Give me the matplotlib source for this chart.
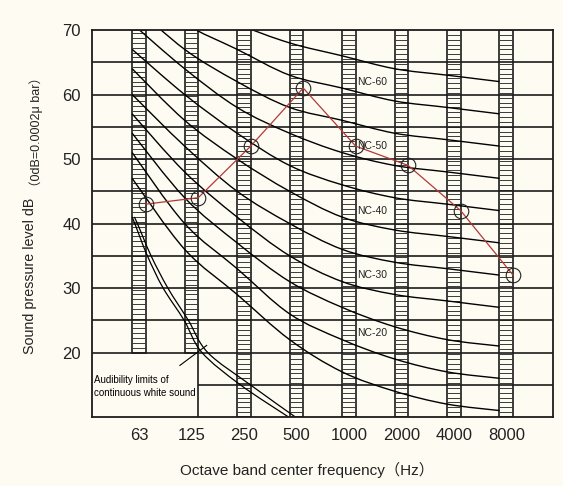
import numpy as np
import matplotlib.pyplot as plt
from matplotlib.path import Path
from matplotlib.patches import PathPatch

# ─────────────────────────────
# DATA
# ─────────────────────────────
bands = ["63", "125", "250", "500", "1000", "2000", "4000", "8000"]

# NC curves (dB at each octave band)
nc15 = [47, 36, 29, 22, 17, 14, 12, 11]
nc20 = [51, 40, 33, 26, 22, 19, 17, 16]
nc25 = [54, 44, 37, 31, 27, 24, 22, 21]
nc30 = [57, 48, 41, 35, 31, 29, 28, 27]
nc35 = [60, 52, 45, 40, 36, 34, 33, 32]
nc40 = [64, 56, 50, 45, 41, 39, 38, 37]
nc45 = [67, 60, 54, 49, 46, 44, 43, 42]
nc50 = [71, 64, 58, 54, 51, 49, 48, 47]
nc55 = [74, 67, 62, 58, 56, 54, 53, 52]
nc60 = [77, 71, 67, 63, 61, 59, 58, 57]
nc65 = [80, 75, 71, 68, 66, 64, 63, 62]
nc_names = [15, 20, 25, 30, 35, 40, 45, 50, 55, 60, 65]
nc_labelled = [20, 30, 40, 50, 60]

# measured spectrum
measured = [43, 44, 52, 61, 52, 49, 42, 32]

# audibility limits of continuous white sound (band index position, dB)
aud_outer_x = [-0.13, -0.08, 0.16, 0.46, 0.86, 1.20, 1.93, 2.85]
aud_outer_db = [41, 40, 35, 30, 25, 20, 15, 10]
aud_inner_x = [-0.09, -0.03, 0.23, 0.55, 0.94, 1.31, 2.12, 2.98]
aud_inner_db = [41, 40, 35, 30, 25, 20, 15, 10]


# smooth line through points (Catmull-Rom drawn as Bezier segments)
def smooth_path(xs, ys):
    p = np.column_stack([xs, ys]).astype(float)
    ext = np.vstack([p[0], p, p[-1]])
    verts = [p[0]]
    codes = [Path.MOVETO]
    for i in range(1, len(ext) - 2):
        c1 = ext[i] + (ext[i + 1] - ext[i - 1]) / 6
        c2 = ext[i + 1] - (ext[i + 2] - ext[i]) / 6
        verts += [c1, c2, ext[i + 1]]
        codes += [Path.CURVE4] * 3
    return Path(verts, codes)


def draw_curve(ax, xs, ys, lw):
    ax.add_patch(PathPatch(smooth_path(xs, ys), fill=False,
                           edgecolor="black", lw=lw, zorder=4))


# ─────────────────────────────
# STYLE
# ─────────────────────────────
bg = "#fdfbf2"
ink = "#1c1c1c"
fam = ["Liberation Sans", "Noto Sans CJK SC", "DejaVu Sans"]
plt.rcParams["font.family"] = fam

fig = plt.figure(figsize=(5.63, 4.86), dpi=100, facecolor=bg)
ax = fig.add_axes([92 / 563, 1 - 417 / 486, 461 / 563, 387 / 486])
ax.set_facecolor(bg)

x = np.arange(len(bands))
w = 0.26
ymin, ymax = 10, 70
ax.set_xlim(-0.895, 7.89)
ax.set_ylim(ymin, ymax)

# ── hatched band columns
bar_bottom = [20, 20, 10, 10, 10, 10, 10, 10]
for xi, b0 in zip(x, bar_bottom):
    ax.bar(xi, ymax - b0, bottom=b0, width=w, facecolor=bg,
           edgecolor=ink, lw=1.2, zorder=2)
    ax.hlines(np.arange(b0 + 0.75, ymax, 0.75), xi - w / 2, xi + w / 2,
              color="#3a3a3a", lw=0.7, zorder=2.5)

# ── grid
for g in range(20, 70, 5):
    ax.axhline(g, color=ink, lw=1.2, zorder=3)
ax.hlines(15, x[1] + w / 2, 7.89, color=ink, lw=1.2, zorder=3)
ax.vlines(x[1] + w / 2, ymin, 20, color=ink, lw=1.2, zorder=3)

# ── NC curves
nc_curves = [nc15, nc20, nc25, nc30, nc35, nc40, nc45, nc50, nc55, nc60, nc65]
for name, vals in zip(nc_names, nc_curves):
    draw_curve(ax, x - w / 2, vals, 1.0)
    if name in nc_labelled:
        ax.text(x[4] + w / 2 + 0.02, vals[4] + 1, f"NC-{name}",
                fontsize=7.5, va="center", ha="left", color="#222222",
                zorder=6)

# ── audibility limits
draw_curve(ax, aud_outer_x, aud_outer_db, 0.9)
draw_curve(ax, aud_inner_x, aud_inner_db, 0.9)
ax.plot([0.78, 1.29], [18.0, 21.1], color="black", lw=0.8, zorder=4)
ax.text(-0.86, 14.7, "Audibility limits of\ncontinuous white sound",
        fontsize=7, va="center", ha="left", linespacing=1.45, zorder=6)

# ── measured spectrum
ax.plot(x + w / 2, measured, color="#b23a36", lw=0.9, zorder=5)
ax.plot(x + w / 2, measured, ls="none", marker="o", ms=10.5,
        mfc="none", mec="#222222", mew=0.8, zorder=5)

# ── axes
ax.set_xticks(x)
ax.set_xticklabels(bands)
ax.set_yticks(range(20, 71, 10))
ax.tick_params(length=0, labelsize=12, colors="#222222")
ax.tick_params(axis="y", pad=8)
ax.tick_params(axis="x", pad=8)
for s in ax.spines.values():
    s.set_color(ink)
    s.set_linewidth(1.3)
    s.set_zorder(6)

fig.text(307 / 563, 1 - 470 / 486, "Octave band center frequency（Hz）",
         fontsize=11, ha="center", va="center", color="#222222")
fig.text(30 / 563, 1 - 276 / 486, "Sound pressure level dB",
         fontsize=10.3, rotation=90, ha="center", va="center", color="#222222")
fig.text(36 / 563, 1 - 132 / 486, "（0dB=0.0002μ bar）",
         fontsize=9, rotation=90, ha="center", va="center", color="#222222")

plt.savefig("out.png", dpi=100, facecolor=bg)
